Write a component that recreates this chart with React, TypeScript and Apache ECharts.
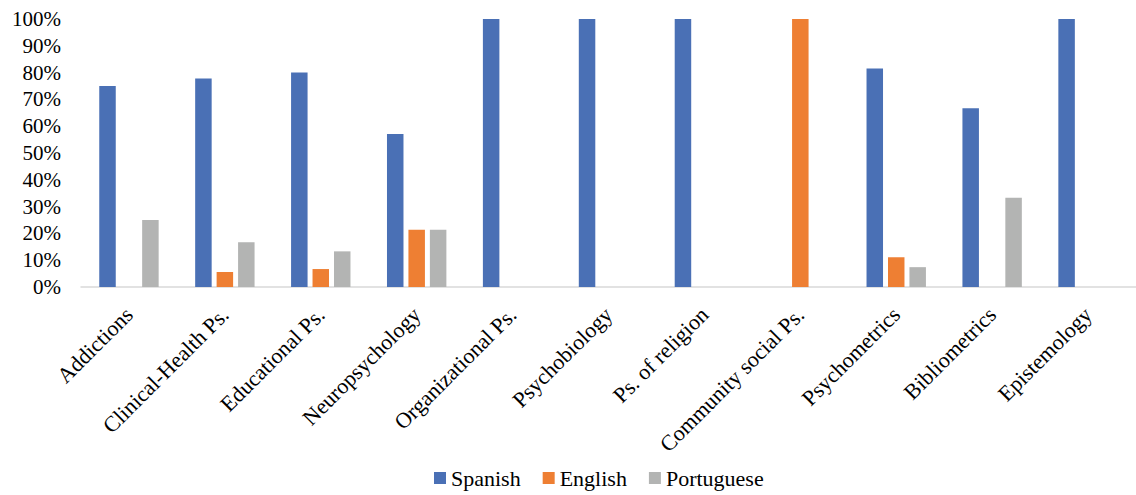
import React, { useEffect, useRef } from "react";
import * as echarts from "echarts";

const categories = [
  "Addictions",
  "Clinical-Health Ps.",
  "Educational Ps.",
  "Neuropsychology",
  "Organizational Ps.",
  "Psychobiology",
  "Ps. of religion",
  "Community social Ps.",
  "Psychometrics",
  "Bibliometrics",
  "Epistemology",
];
const spanish = [75, 77.8, 80, 57.1, 100, 100, 100, 0, 81.5, 66.7, 100];
const english = [0, 5.6, 6.7, 21.4, 0, 0, 0, 100, 11.1, 0, 0];
const portuguese = [25, 16.7, 13.3, 21.4, 0, 0, 0, 0, 7.4, 33.3, 0];

const FONT = "Liberation Serif";

export default function App() {
  const ref = useRef<HTMLDivElement>(null);
  useEffect(() => {
    document.body.style.margin = "0";
    const chart = echarts.init(ref.current!, null, { renderer: "svg" });
    const bar = (name: string, data: number[], color: string) => ({
      name,
      type: "bar",
      data,
      barWidth: 16.5,
      barGap: "30%",
      itemStyle: { color },
    });
    chart.setOption({
      animation: false,
      textStyle: { fontFamily: FONT },
      grid: { left: 81, right: -8, top: 19, bottom: 208 },
      legend: {
        bottom: 1,
        left: 429,
        itemWidth: 12,
        itemHeight: 12,
        itemGap: 22,
        icon: "rect",
        formatter: "{t|{name}}",
        textStyle: {
          fontFamily: FONT,
          fontSize: 22,
          color: "#000",
          rich: { t: { fontFamily: FONT, fontSize: 22, color: "#000" } },
        },
      },
      xAxis: {
        type: "category",
        data: categories,
        axisLine: { lineStyle: { color: "#d9d9d9", width: 1.5 } },
        axisTick: { show: false },
        axisLabel: {
          rotate: 45,
          interval: 0,
          margin: 24,
          fontFamily: FONT,
          fontSize: 22,
          color: "#000",
        },
      },
      yAxis: {
        type: "value",
        min: 0,
        max: 100,
        interval: 10,
        splitLine: { show: false },
        axisLine: { show: false },
        axisTick: { show: false },
        axisLabel: {
          formatter: "{value}%",
          margin: 20,
          fontFamily: FONT,
          fontSize: 21,
          color: "#000",
        },
      },
      series: [
        bar("Spanish", spanish, "#4a70b5"),
        bar("English", english, "#ee7f33"),
        bar("Portuguese", portuguese, "#b3b4b3"),
      ],
    });
    return () => chart.dispose();
  }, []);
  return <div ref={ref} style={{ width: 1136, height: 495 }} />;
}
